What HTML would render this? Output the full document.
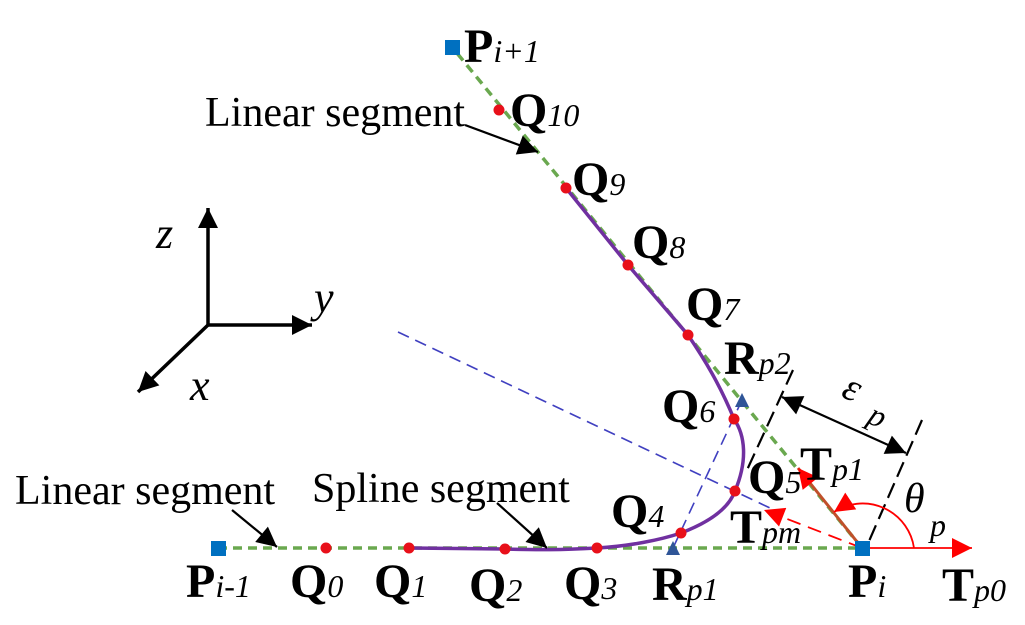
<!DOCTYPE html>
<html><head><meta charset="utf-8"><style>
body{margin:0;background:#fff}
svg{display:block}
text{font-family:"Liberation Serif",serif}
.b{font-weight:bold;font-size:48px}
.s{font-style:italic;font-size:32px;font-weight:normal}
.l{font-size:42px}
</style></head><body>
<svg width="1025" height="625" viewBox="0 0 1025 625" xmlns="http://www.w3.org/2000/svg">
<defs>
<marker id="ab" viewBox="0 0 10 10" markerWidth="24" markerHeight="20" refX="10" refY="5" orient="auto" markerUnits="userSpaceOnUse"><path d="M0,0 L10,5 L0,10z" fill="#000"/></marker>
<marker id="ab2" viewBox="0 0 10 10" markerWidth="24" markerHeight="20" refX="0" refY="5" orient="auto" markerUnits="userSpaceOnUse"><path d="M10,0 L0,5 L10,10z" fill="#000"/></marker>
<marker id="ar" viewBox="0 0 10 10" markerWidth="28" markerHeight="20" refX="10" refY="5" orient="auto" markerUnits="userSpaceOnUse"><path d="M0,0 L10,5 L0,10z" fill="#f00"/></marker>
</defs>
<g stroke="#000" stroke-width="3.5" fill="none">
<line x1="208" y1="325" x2="208" y2="208" marker-end="url(#ab)"/>
<line x1="208" y1="325" x2="312" y2="325" marker-end="url(#ab)"/>
<line x1="208" y1="325" x2="138" y2="392" marker-end="url(#ab)"/>
</g>
<text x="156" y="248" font-size="44" font-style="italic">z</text>
<text x="314" y="312" font-size="44" font-style="italic">y</text>
<text x="190" y="400" font-size="44" font-style="italic">x</text>
<g stroke="#6aa84f" stroke-width="3.5" stroke-dasharray="9,6" fill="none">
<line x1="218" y1="548" x2="862" y2="548"/>
<line x1="862" y1="548" x2="452" y2="47"/>
</g>
<g stroke="#4040c0" stroke-width="1.6" stroke-dasharray="12,7" fill="none">
<line x1="398" y1="332" x2="770" y2="508"/>
<line x1="673" y1="548" x2="742" y2="400"/>
</g>
<path d="M409,548 L505,549 C540,550 560,550 597,548 C630,546 660,540 681,533 C715,520 730,505 735,491 C748,460 745,435 734,419 C720,385 705,360 688,335 L628,265 L566,188" stroke="#7030a0" stroke-width="3.5" fill="none"/>
<g stroke="#000" stroke-width="2.2" stroke-dasharray="16,7" fill="none">
<line x1="793" y1="370" x2="747" y2="470"/>
<line x1="922" y1="420" x2="866" y2="548"/>
</g>
<line x1="782" y1="397" x2="906" y2="453" stroke="#000" stroke-width="2.2" marker-start="url(#ab2)" marker-end="url(#ab)"/>
<line x1="862" y1="548" x2="972" y2="548" stroke="#f00" stroke-width="1.8" marker-end="url(#ar)"/>
<line x1="862" y1="548" x2="798" y2="468" stroke="#c0502a" stroke-width="3" marker-end="url(#ar)"/>
<line x1="862" y1="548" x2="764" y2="510" stroke="#f00" stroke-width="1.8" stroke-dasharray="14,8" marker-end="url(#ar)"/>
<path d="M914,548 A52,52 0 0 0 834,512" stroke="#f00" stroke-width="1.8" fill="none" marker-end="url(#ar)"/>
<line x1="465" y1="125" x2="538" y2="152" stroke="#000" stroke-width="2.2" marker-end="url(#ab)"/>
<line x1="232" y1="510" x2="277" y2="547" stroke="#000" stroke-width="2.2" marker-end="url(#ab)"/>
<line x1="497" y1="503" x2="547" y2="548" stroke="#000" stroke-width="2.2" marker-end="url(#ab)"/>
<g fill="#e8101a">
<circle cx="326" cy="548" r="5.5"/><circle cx="409" cy="548" r="5.5"/><circle cx="505" cy="549" r="5.5"/><circle cx="597" cy="548" r="5.5"/>
<circle cx="681" cy="533" r="5.5"/><circle cx="735" cy="491" r="5.5"/><circle cx="734" cy="419" r="5.5"/>
<circle cx="688" cy="335" r="5.5"/><circle cx="628" cy="265" r="5.5"/><circle cx="566" cy="188" r="5.5"/><circle cx="499" cy="110" r="5.5"/>
</g>
<g fill="#0070c0">
<rect x="211" y="541" width="15" height="15"/><rect x="855" y="541" width="15" height="15"/><rect x="445" y="40" width="15" height="15"/>
</g>
<g fill="#2f5597">
<path d="M673,541 L680,555 L666,555z"/><path d="M742,393 L749,407 L735,407z"/>
</g>
<text x="205" y="126" class="l">Linear segment</text>
<text x="15" y="504" class="l">Linear segment</text>
<text x="312" y="502" class="l">Spline segment</text>
<text x="464" y="62" class="b">P<tspan class="s">i+1</tspan></text>
<text x="510" y="126" class="b">Q<tspan class="s">10</tspan></text>
<text x="572" y="195" class="b">Q<tspan class="s">9</tspan></text>
<text x="632" y="258" class="b">Q<tspan class="s">8</tspan></text>
<text x="686" y="320" class="b">Q<tspan class="s">7</tspan></text>
<text x="724" y="374" class="b">R<tspan class="s">p2</tspan></text>
<text x="662" y="422" class="b">Q<tspan class="s">6</tspan></text>
<text x="748" y="493" class="b">Q<tspan class="s">5</tspan></text>
<text x="800" y="480" class="b">T<tspan class="s">p1</tspan></text>
<text x="730" y="543" class="b">T<tspan class="s">pm</tspan></text>
<text x="611" y="527" class="b">Q<tspan class="s">4</tspan></text>
<text x="186" y="597" class="b">P<tspan class="s">i-1</tspan></text>
<text x="290" y="597" class="b">Q<tspan class="s">0</tspan></text>
<text x="374" y="597" class="b">Q<tspan class="s">1</tspan></text>
<text x="469" y="601" class="b">Q<tspan class="s">2</tspan></text>
<text x="564" y="599" class="b">Q<tspan class="s">3</tspan></text>
<text x="652" y="600" class="b">R<tspan class="s">p1</tspan></text>
<text x="848" y="597" class="b">P<tspan class="s">i</tspan></text>
<text x="942" y="601" class="b">T<tspan class="s">p0</tspan></text>
<text x="840" y="396" font-size="40" font-style="italic" transform="rotate(25 840 396)">ε</text>
<text x="866" y="422" font-size="32" font-style="italic" transform="rotate(25 866 422)">p</text>
<text x="904" y="512" font-size="42" font-style="italic">θ</text>
<text x="930" y="536" font-size="32" font-style="italic">p</text>
</svg>
</body></html>
